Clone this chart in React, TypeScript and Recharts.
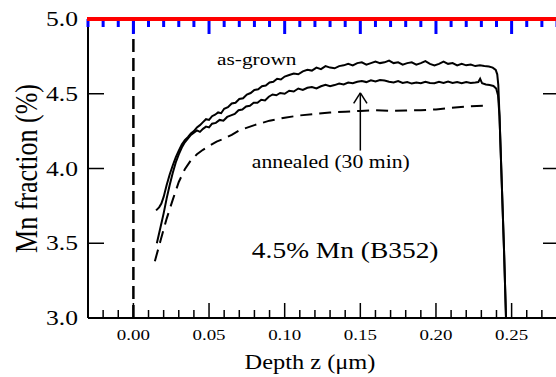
import React from "react";
import { LineChart, Line, XAxis, YAxis, ReferenceLine, ReferenceDot, Label } from "recharts";

const FONT = "'Liberation Serif', 'Times New Roman', serif";
const SX = 1.22;

const W = 560;
const H = 377;
const M_TOP = 19;
const LEFT_W = 88;
const RIGHT_W = 3;
const BOTTOM_H = 59;
const PLOT_W = W - LEFT_W - RIGHT_W;
const PLOT_H = H - M_TOP - BOTTOM_H;

const asGrown: [number, number][] = [
  [0.015, 3.72], [0.017, 3.74], [0.0185, 3.765], [0.02, 3.81], [0.022, 3.89], [0.024, 3.96],
  [0.026, 4.02], [0.028, 4.075], [0.03, 4.12], [0.032, 4.16], [0.034, 4.19], [0.036, 4.21],
  [0.038, 4.235], [0.04, 4.25], [0.042, 4.275], [0.044, 4.29], [0.046, 4.31], [0.048, 4.33],
  [0.05, 4.325], [0.052, 4.35], [0.054, 4.36], [0.056, 4.375], [0.058, 4.37], [0.06, 4.4],
  [0.0625, 4.41], [0.065, 4.435], [0.0675, 4.44], [0.07, 4.465], [0.0725, 4.47], [0.075, 4.495],
  [0.0775, 4.505], [0.08, 4.525], [0.0825, 4.53], [0.085, 4.55], [0.0875, 4.555], [0.09, 4.575],
  [0.0925, 4.58], [0.095, 4.6], [0.0975, 4.595], [0.1, 4.615], [0.103, 4.625], [0.106, 4.635],
  [0.109, 4.63], [0.112, 4.65], [0.115, 4.66], [0.118, 4.655], [0.121, 4.675], [0.124, 4.665],
  [0.127, 4.685], [0.13, 4.675], [0.133, 4.67], [0.136, 4.685], [0.139, 4.69], [0.142, 4.7],
  [0.145, 4.69], [0.148, 4.705], [0.151, 4.71], [0.154, 4.695], [0.157, 4.705], [0.16, 4.715],
  [0.163, 4.705], [0.166, 4.71], [0.169, 4.722], [0.172, 4.705], [0.175, 4.71], [0.178, 4.695],
  [0.181, 4.705], [0.184, 4.71], [0.187, 4.695], [0.19, 4.705], [0.193, 4.718], [0.196, 4.7],
  [0.199, 4.69], [0.202, 4.7], [0.205, 4.715], [0.208, 4.7], [0.211, 4.705], [0.214, 4.69],
  [0.217, 4.7], [0.22, 4.69], [0.223, 4.695], [0.226, 4.685], [0.229, 4.69], [0.232, 4.685],
  [0.235, 4.682], [0.2375, 4.675], [0.2395, 4.66], [0.2405, 4.63], [0.2412, 4.56], [0.242, 4.35],
  [0.2435, 3.9], [0.245, 3.45], [0.2463, 3.0],
];

const annealed: [number, number][] = [
  [0.0155, 3.5], [0.018, 3.61], [0.02, 3.7], [0.022, 3.8], [0.024, 3.89], [0.026, 3.97],
  [0.028, 4.04], [0.03, 4.095], [0.032, 4.14], [0.034, 4.175], [0.036, 4.2], [0.038, 4.225],
  [0.04, 4.24], [0.042, 4.255], [0.044, 4.245], [0.046, 4.265], [0.048, 4.28], [0.05, 4.275],
  [0.052, 4.3], [0.0545, 4.305], [0.057, 4.325], [0.0595, 4.32], [0.062, 4.345], [0.0645, 4.355],
  [0.067, 4.365], [0.0695, 4.39], [0.072, 4.395], [0.0745, 4.415], [0.077, 4.42], [0.0795, 4.44],
  [0.082, 4.44], [0.0845, 4.46], [0.087, 4.455], [0.0895, 4.48], [0.092, 4.495], [0.0945, 4.49],
  [0.097, 4.505], [0.1, 4.5], [0.103, 4.52], [0.106, 4.515], [0.109, 4.535], [0.112, 4.525],
  [0.115, 4.54], [0.118, 4.545], [0.121, 4.535], [0.124, 4.55], [0.127, 4.56], [0.13, 4.55],
  [0.133, 4.558], [0.136, 4.568], [0.139, 4.562], [0.142, 4.575], [0.145, 4.57], [0.148, 4.58],
  [0.151, 4.585], [0.154, 4.578], [0.157, 4.59], [0.16, 4.582], [0.163, 4.592], [0.166, 4.588],
  [0.169, 4.58], [0.172, 4.575], [0.175, 4.585], [0.178, 4.572], [0.181, 4.578], [0.184, 4.568],
  [0.187, 4.575], [0.19, 4.57], [0.193, 4.58], [0.196, 4.572], [0.199, 4.57], [0.202, 4.58],
  [0.205, 4.572], [0.208, 4.582], [0.211, 4.572], [0.214, 4.578], [0.217, 4.57], [0.22, 4.578],
  [0.223, 4.572], [0.226, 4.575], [0.228, 4.578], [0.2292, 4.6], [0.2305, 4.57], [0.233, 4.562],
  [0.2355, 4.558], [0.238, 4.552], [0.2398, 4.535], [0.241, 4.49], [0.242, 4.35], [0.2435, 3.9],
  [0.245, 3.45], [0.2463, 3.0],
];

const dashedProfile: [number, number][] = [
  [0.0142, 3.38], [0.018, 3.52], [0.022, 3.665], [0.026, 3.79], [0.03, 3.91], [0.034, 3.995],
  [0.038, 4.055], [0.042, 4.095], [0.046, 4.125], [0.05, 4.15], [0.055, 4.18], [0.06, 4.2],
  [0.065, 4.225], [0.07, 4.255], [0.08, 4.29], [0.09, 4.32], [0.1, 4.34], [0.11, 4.355],
  [0.12, 4.365], [0.13, 4.375], [0.14, 4.38], [0.15, 4.385], [0.16, 4.39], [0.17, 4.385],
  [0.18, 4.388], [0.19, 4.39], [0.2, 4.395], [0.21, 4.405], [0.22, 4.415], [0.231, 4.42],
];

const surfaceLine: [number, number][] = [[0, 3], [0, 5]];

const xDomain = [-0.03, 0.28];
const yDomain = [3, 5];
const xTicks = [
  -0.03, -0.02, -0.01, 0, 0.01, 0.02, 0.03, 0.04, 0.05, 0.06, 0.07, 0.08, 0.09, 0.1, 0.11, 0.12,
  0.13, 0.14, 0.15, 0.16, 0.17, 0.18, 0.19, 0.2, 0.21, 0.22, 0.23, 0.24, 0.25, 0.26, 0.27, 0.28,
];
const xMajorTicks = [0, 0.05, 0.1, 0.15, 0.2, 0.25];
const xLabelTicks = [0, 0.05, 0.1, 0.15, 0.2, 0.25];
const yTicks = [3, 3.5, 4, 4.5, 5];
const yInnerTicks = [3.5, 4, 4.5];

const arrowShaft = [{ x: 0.15, y: 4.12 }, { x: 0.15, y: 4.506 }];
const arrowLeft = [{ x: 0.1456, y: 4.435 }, { x: 0.15, y: 4.506 }];
const arrowRight = [{ x: 0.15, y: 4.506 }, { x: 0.1544, y: 4.435 }];
const notes = [
  { x: 0.0553, y: 4.692, text: "as-grown", size: 17.5 },
  { x: 0.0783, y: 4.003, text: "annealed (30 min)", size: 17.8 },
  { x: 0.0783, y: 3.401, text: "4.5% Mn (B352)", size: 22.5 },
];

const pts = (arr: [number, number][]) => arr.map(([x, y]) => ({ x, y }));
const inList = (list: number[], v: number) => list.some((t) => Math.abs(t - v) < 1e-9);

const stretchText = (x: number, y: number, size: number, anchor: string, text: string) => (
  <text
    transform={`translate(${x},${y}) scale(${SX},1)`}
    textAnchor={anchor}
    fontFamily={FONT}
    fontSize={size}
    fill="#000"
  >
    {text}
  </text>
);

function BottomTick(props: any) {
  const { x, y, payload } = props;
  const len = inList(xMajorTicks, payload.value) ? 15 : 8;
  const top = y - PLOT_H;
  return (
    <g>
      <line x1={x} x2={x} y1={y} y2={y - len} stroke="#000" strokeWidth={1.5} />
      <line x1={x} x2={x} y1={top} y2={top + len} stroke="blue" strokeWidth={3} />
      {inList(xLabelTicks, payload.value) && stretchText(x, y + 22, 15.5, "middle", payload.value.toFixed(2))}
    </g>
  );
}

function LeftTick(props: any) {
  const { x, y, payload } = props;
  const isTop = Math.abs(payload.value - yDomain[1]) < 1e-9;
  return (
    <g>
      {inList(yInnerTicks, payload.value) && (
        <line x1={x} x2={x + 16} y1={y} y2={y} stroke="#000" strokeWidth={1.5} />
      )}
      {isTop && <line x1={x - 1} x2={x + PLOT_W} y1={y} y2={y} stroke="red" strokeWidth={4} />}
      {stretchText(x - 10, y + 7, 21, "end", payload.value.toFixed(1))}
    </g>
  );
}

function RightTick(props: any) {
  const { x, y } = props;
  return <line x1={x} x2={x - 14} y1={y} y2={y} stroke="#000" strokeWidth={1.5} />;
}

const axisLine = { stroke: "#000", strokeWidth: 2 };

export default function App() {
  return (
    <div style={{ position: "absolute", left: 0, top: 0, width: 556, height: H, overflow: "hidden", background: "#fff" }}>
      <LineChart width={W} height={H} margin={{ top: M_TOP, right: 0, bottom: 0, left: 0 }}>
        <XAxis
          xAxisId="b"
          type="number"
          dataKey="x"
          domain={xDomain}
          ticks={xTicks}
          interval={0}
          tickSize={0}
          tickMargin={0}
          tickLine={false}
          axisLine={axisLine}
          tick={(p: any) => <BottomTick {...p} />}
          height={BOTTOM_H}
          allowDataOverflow
        >
          <Label
            content={({ viewBox }: any) =>
              stretchText(viewBox.x + 222, viewBox.y + 51, 20, "middle", "Depth z (μm)")
            }
          />
        </XAxis>
        <YAxis
          yAxisId="l"
          type="number"
          domain={yDomain}
          ticks={yTicks}
          interval={0}
          tickSize={0}
          tickMargin={0}
          tickLine={false}
          axisLine={axisLine}
          tick={(p: any) => <LeftTick {...p} />}
          width={LEFT_W}
          allowDataOverflow
        >
          <Label
            content={({ viewBox }: any) => (
              <text
                transform={`translate(37,${viewBox.y + viewBox.height / 2}) scale(${SX},1) rotate(-90)`}
                textAnchor="middle"
                fontFamily={FONT}
                fontSize={26}
                fill="#000"
              >
                Mn fraction (%)
              </text>
            )}
          />
        </YAxis>
        <YAxis
          yAxisId="r"
          orientation="right"
          type="number"
          domain={yDomain}
          ticks={yInnerTicks}
          interval={0}
          tickSize={0}
          tickMargin={0}
          tickLine={false}
          axisLine={axisLine}
          tick={(p: any) => <RightTick {...p} />}
          width={RIGHT_W}
          allowDataOverflow
        />

        <Line xAxisId="b" yAxisId="l" data={pts(surfaceLine)} dataKey="y" type="linear" stroke="#000"
          strokeWidth={2.5} strokeDasharray="13 6" dot={false} isAnimationActive={false} />
        <Line xAxisId="b" yAxisId="l" data={pts(dashedProfile)} dataKey="y" type="linear" stroke="#000"
          strokeWidth={2} strokeDasharray="12 7" dot={false} isAnimationActive={false} />
        <Line xAxisId="b" yAxisId="l" data={pts(annealed)} dataKey="y" type="linear" stroke="#000"
          strokeWidth={2} dot={false} isAnimationActive={false} />
        <Line xAxisId="b" yAxisId="l" data={pts(asGrown)} dataKey="y" type="linear" stroke="#000"
          strokeWidth={2} dot={false} isAnimationActive={false} />

        <ReferenceLine segment={arrowShaft} xAxisId="b" yAxisId="l" stroke="#000" strokeWidth={1.5} />
        <ReferenceLine segment={arrowLeft} xAxisId="b" yAxisId="l" stroke="#000" strokeWidth={1.5} />
        <ReferenceLine segment={arrowRight} xAxisId="b" yAxisId="l" stroke="#000" strokeWidth={1.5} />

        {notes.map((n) => (
          <ReferenceDot
            key={n.text}
            x={n.x}
            y={n.y}
            xAxisId="b"
            yAxisId="l"
            r={0}
            stroke="none"
            fill="none"
            label={{
              content: ({ viewBox }: any) => stretchText(viewBox.x, viewBox.y, n.size, "start", n.text),
            }}
          />
        ))}
      </LineChart>
    </div>
  );
}
